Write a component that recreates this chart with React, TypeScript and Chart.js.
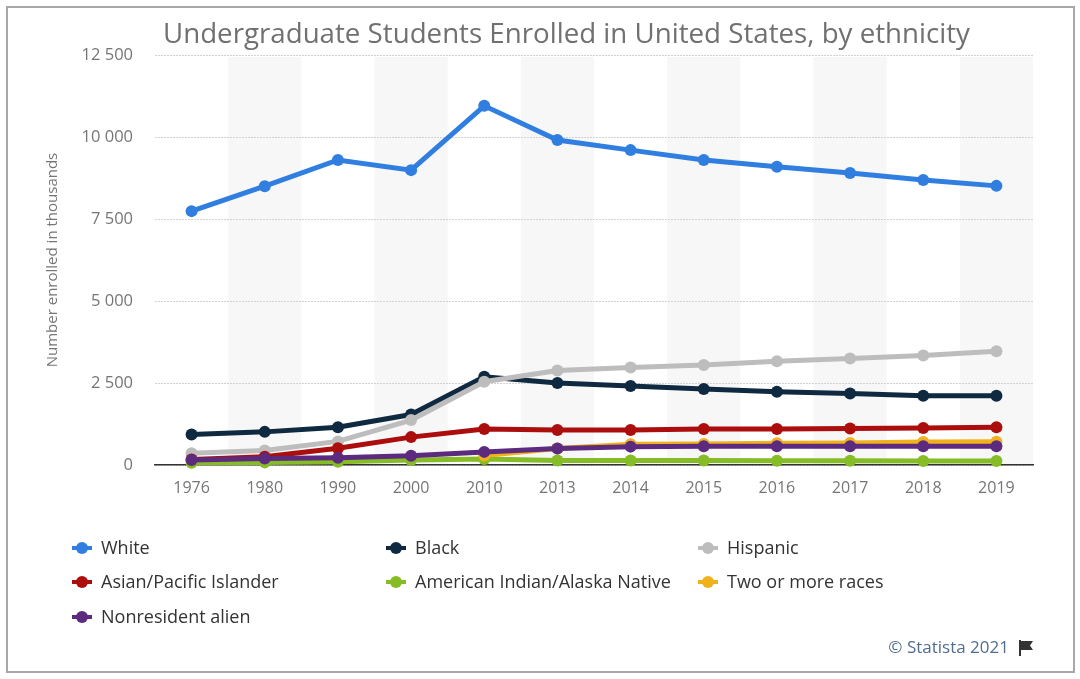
import React, { useEffect, useRef } from "react";
import { Chart, registerables } from "chart.js";

Chart.register(...registerables);

const chartTitle = "Undergraduate Students Enrolled in United States, by ethnicity";
const yAxisTitle = "Number enrolled in thousands";
const footerText = "© Statista 2021";

const years = ["1976", "1980", "1990", "2000", "2010", "2013", "2014", "2015", "2016", "2017", "2018", "2019"];
const yTicks = [0, 2500, 5000, 7500, 10000, 12500];

const white = [7740, 8500, 9300, 8990, 10950, 9910, 9600, 9300, 9090, 8900, 8690, 8510];
const black = [930, 1010, 1150, 1540, 2690, 2500, 2410, 2320, 2230, 2180, 2110, 2110];
const hispanic = [360, 440, 720, 1370, 2540, 2880, 2970, 3050, 3160, 3250, 3340, 3470];
const asian = [170, 250, 510, 850, 1100, 1070, 1070, 1100, 1100, 1110, 1130, 1150];
const aian = [70, 80, 100, 150, 180, 140, 140, 135, 130, 130, 125, 125];
const twoOrMore = [null, null, null, null, 290, 500, 630, 640, 660, 670, 700, 710];
const nonresident = [150, 200, 220, 280, 400, 500, 560, 570, 570, 570, 570, 570];

const seriesNames = [
  "White",
  "Black",
  "Hispanic",
  "Asian/Pacific Islander",
  "American Indian/Alaska Native",
  "Two or more races",
  "Nonresident alien",
];
const seriesData = [white, black, hispanic, asian, aian, twoOrMore, nonresident];
const seriesColors = ["#2f7ee0", "#0f2940", "#bdbdbd", "#ac0d0d", "#86bc25", "#f1b11c", "#5c2a7f"];

const fmt = (v: number) => {
  const s = Math.round(v).toString();
  return s.replace(/\B(?=(\d{3})+(?!\d))/g, " ");
};

const decor = {
  id: "decor",
  beforeDraw(chart: any) {
    const { ctx, chartArea, scales } = chart;
    ctx.save();
    ctx.fillStyle = "#ffffff";
    ctx.fillRect(0, 0, chart.width, chart.height);
    const x = scales.x;
    const step = (chartArea.right - chartArea.left) / years.length;
    ctx.fillStyle = "#f7f7f7";
    years.forEach((_, i) => {
      if (i % 2 === 1) {
        const cx = x.getPixelForValue(i);
        ctx.fillRect(cx - step / 2, chartArea.top + 2, step, chartArea.bottom - chartArea.top - 2);
      }
    });
    ctx.strokeStyle = "#a8a8a8";
    ctx.lineWidth = 2;
    ctx.strokeRect(7, 7, 1067, 665);
    ctx.restore();
  },
  afterDraw(chart: any) {
    const { ctx } = chart;
    ctx.save();
    // title
    ctx.font = '27.7px "Open Sans"';
    ctx.fillStyle = "#707070";
    ctx.textBaseline = "middle";
    ctx.textAlign = "left";
    ctx.fillText(chartTitle, 163, 35);

    // legend
    const colX = [72, 386, 698];
    const rowY = [548, 582, 617];
    ctx.font = '18px "Open Sans"';
    chart.data.datasets.forEach((ds: any, i: number) => {
      const cx = colX[i % 3];
      const cy = rowY[Math.floor(i / 3)];
      ctx.strokeStyle = ds.borderColor;
      ctx.lineWidth = 4;
      ctx.beginPath();
      ctx.moveTo(cx, cy);
      ctx.lineTo(cx + 20, cy);
      ctx.stroke();
      ctx.fillStyle = ds.borderColor;
      ctx.beginPath();
      ctx.arc(cx + 10, cy, 6, 0, Math.PI * 2);
      ctx.fill();
      ctx.fillStyle = "#333333";
      ctx.textBaseline = "middle";
      ctx.fillText(ds.label, cx + 29, cy + 1);
    });

    // footer
    ctx.font = '17px "Open Sans"';
    ctx.fillStyle = "#4f6d8e";
    ctx.textAlign = "right";
    ctx.fillText(footerText, 1009, 648);
    // flag icon
    ctx.fillStyle = "#333333";
    ctx.fillRect(1019, 640, 2, 16);
    ctx.beginPath();
    ctx.moveTo(1021, 641);
    ctx.lineTo(1033, 641);
    ctx.lineTo(1030, 645.5);
    ctx.lineTo(1033, 650);
    ctx.lineTo(1021, 650);
    ctx.closePath();
    ctx.fill();
    ctx.restore();
  },
};

export default function App() {
  const ref = useRef<HTMLCanvasElement | null>(null);
  useEffect(() => {
    if (!ref.current) return;
    const chart = new Chart(ref.current, {
      type: "line",
      data: {
        labels: years,
        datasets: seriesNames.map((name, i) => ({
          label: name,
          data: seriesData[i] as any,
          borderColor: seriesColors[i],
          backgroundColor: seriesColors[i],
          pointBackgroundColor: seriesColors[i],
          pointBorderColor: seriesColors[i],
          borderWidth: 5,
          pointRadius: 6,
          pointBorderWidth: 0,
          tension: 0,
          fill: false,
          clip: false as any,
          order: 20 - i,
        })),
      },
      options: {
        responsive: false,
        animation: false,
        layout: { padding: { left: 0, right: 47, top: 55, bottom: 174 } },
        plugins: {
          legend: { display: false },
          title: { display: false },
          tooltip: { enabled: false },
        },
        scales: {
          x: {
            offset: true,
            grid: { display: false, drawTicks: false },
            border: { display: true, color: "#333333", width: 1.5 },
            ticks: {
              autoSkip: false,
              maxRotation: 0,
              padding: 14,
              color: "#767676",
              font: { family: '"Open Sans"', size: 16 },
            },
            afterFit: (s: any) => {
              s.height = 40;
            },
          },
          y: {
            min: 0,
            max: 12500,
            afterBuildTicks: (s: any) => {
              s.ticks = yTicks.map((v) => ({ value: v }));
            },
            grid: { color: "#d2d2d2", lineWidth: 1, drawTicks: false },
            border: { display: false, dash: [2, 1] },
            ticks: {
              padding: 22,
              color: "#767676",
              font: { family: '"Open Sans"', size: 16.5 },
              callback: (v: any) => fmt(Number(v)),
            },
            title: {
              display: true,
              text: yAxisTitle,
              color: "#767676",
              font: { family: '"Open Sans"', size: 15 },
              padding: { top: 44, bottom: 0 },
            },
            afterFit: (s: any) => {
              s.width = 155;
            },
          },
        },
      },
      plugins: [decor],
    });
    return () => chart.destroy();
  }, []);
  return (
    <div style={{ position: "fixed", left: 0, top: 0, width: 1080, height: 679, background: "#fff" }}>
      <canvas ref={ref} width={1080} height={679} style={{ display: "block", width: 1080, height: 679 }} />
    </div>
  );
}
